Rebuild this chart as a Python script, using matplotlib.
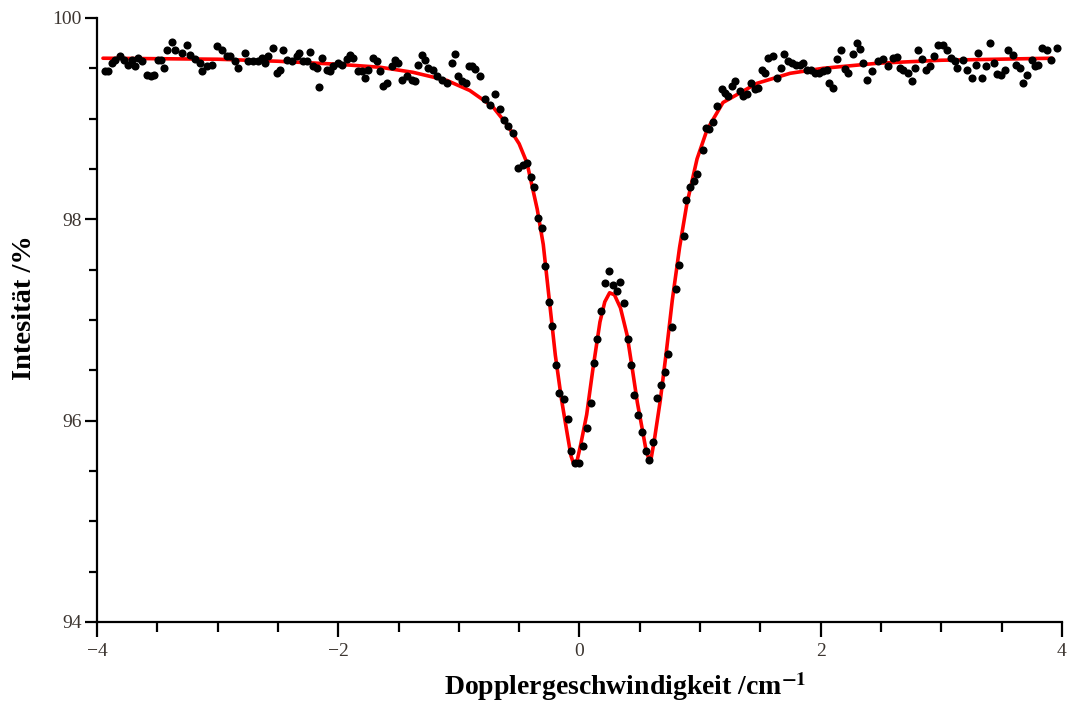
import numpy as np
import matplotlib
matplotlib.use("Agg")
import matplotlib.pyplot as plt
from matplotlib.ticker import MultipleLocator

plt.rcParams['font.family'] = ['Liberation Serif', 'DejaVu Serif']
plt.rcParams['mathtext.fontset'] = 'stix'

# --- Messpunkte (Geschwindigkeit / Intensitaet) ---
velocity = [
    -3.934, -3.909, -3.876, -3.851, -3.809, -3.776, -3.743, -3.710, -3.685, -3.660,
    -3.627, -3.585, -3.552, -3.527, -3.494, -3.469, -3.444, -3.420, -3.378, -3.353,
    -3.295, -3.254, -3.229, -3.187, -3.146, -3.129, -3.088, -3.046, -3.005, -2.964,
    -2.922, -2.897, -2.856, -2.831, -2.773, -2.748, -2.706, -2.665, -2.632, -2.607,
    -2.582, -2.541, -2.507, -2.483, -2.458, -2.425, -2.383, -2.342, -2.325, -2.292,
    -2.259, -2.234, -2.209, -2.176, -2.159, -2.134, -2.093, -2.068, -2.043, -2.002,
    -1.968, -1.927, -1.902, -1.877, -1.836,
    -1.803, -1.778, -1.753, -1.711, -1.678, -1.654, -1.629, -1.595, -1.554, -1.529,
    -1.504, -1.471, -1.430, -1.388, -1.363, -1.338, -1.305, -1.280, -1.255, -1.214,
    -1.181, -1.139, -1.098, -1.056, -1.032, -1.007, -0.973, -0.940, -0.915,
    -0.891, -0.866, -0.824, -0.783, -0.741, -0.700, -0.658, -0.625, -0.592, -0.551,
    -0.509, -0.468, -0.434, -0.401, -0.376, -0.343, -0.310, -0.285, -0.252, -0.227,
    -0.194, -0.169, -0.128, -0.095, -0.070, -0.036, -0.003, 0.030, 0.063, 0.096,
    0.121, 0.146, 0.179, 0.212, 0.245, 0.279, 0.312, 0.337, 0.370, 0.403,
    0.428, 0.453, 0.486, 0.519, 0.552, 0.577, 0.610, 0.643, 0.677, 0.710,
    0.735, 0.768, 0.801, 0.826, 0.867, 0.884, 0.917, 0.950, 0.975,
    1.025, 1.050, 1.075, 1.108, 1.141, 1.182, 1.207, 1.232, 1.265, 1.290,
    1.332, 1.357, 1.390, 1.423, 1.456, 1.481, 1.514, 1.539, 1.564, 1.605,
    1.638, 1.672, 1.697, 1.730, 1.763, 1.796, 1.829, 1.854, 1.887, 1.920,
    1.954, 1.987, 2.020, 2.053, 2.070, 2.103, 2.136, 2.169, 2.202, 2.227,
    2.269, 2.302, 2.327, 2.352, 2.385, 2.426,
    2.476, 2.517, 2.559, 2.600, 2.633, 2.658, 2.683, 2.725, 2.758, 2.783,
    2.808, 2.841, 2.874, 2.907, 2.940, 2.973, 3.015, 3.048, 3.081, 3.114,
    3.131, 3.181, 3.214, 3.255, 3.288, 3.305, 3.338, 3.372, 3.405, 3.438,
    3.463, 3.496, 3.529, 3.554, 3.596, 3.620, 3.653, 3.678, 3.711, 3.753,
    3.778, 3.803, 3.836, 3.877, 3.911, 3.960,
]
intensity = [
    99.47, 99.47, 99.55, 99.58, 99.62, 99.58, 99.53, 99.58, 99.52, 99.60,
    99.57, 99.43, 99.42, 99.43, 99.58, 99.58, 99.50, 99.68, 99.76, 99.68,
    99.65, 99.73, 99.63, 99.59, 99.55, 99.47, 99.52, 99.53, 99.72, 99.68,
    99.62, 99.62, 99.57, 99.50, 99.65, 99.57, 99.57, 99.57, 99.60, 99.55,
    99.62, 99.70, 99.45, 99.48, 99.68, 99.58, 99.57, 99.62, 99.65, 99.57,
    99.57, 99.66, 99.52, 99.50, 99.31, 99.60, 99.48, 99.47, 99.52, 99.55,
    99.53, 99.59, 99.63, 99.60, 99.47,
    99.47, 99.40, 99.48, 99.60, 99.57, 99.47, 99.32, 99.35, 99.52, 99.58,
    99.55, 99.38, 99.42, 99.38, 99.37, 99.53, 99.63, 99.58, 99.50, 99.48,
    99.42, 99.38, 99.35, 99.55, 99.64, 99.42, 99.37, 99.35, 99.52,
    99.52, 99.49, 99.42, 99.19, 99.14, 99.24, 99.10, 98.99, 98.93, 98.86,
    98.51, 98.54, 98.56, 98.42, 98.32, 98.01, 97.91, 97.54, 97.18, 96.94,
    96.55, 96.27, 96.21, 96.02, 95.70, 95.58, 95.58, 95.75, 95.93, 96.18,
    96.57, 96.81, 97.09, 97.37, 97.49, 97.35, 97.29, 97.38, 97.17, 96.81,
    96.55, 96.25, 96.06, 95.89, 95.70, 95.61, 95.79, 96.22, 96.35, 96.48,
    96.66, 96.93, 97.31, 97.55, 97.83, 98.19, 98.32, 98.38, 98.45,
    98.69, 98.91, 98.90, 98.97, 99.13, 99.29, 99.25, 99.22, 99.32, 99.37,
    99.27, 99.22, 99.24, 99.35, 99.29, 99.30, 99.48, 99.45, 99.60, 99.62,
    99.40, 99.50, 99.64, 99.57, 99.55, 99.53, 99.53, 99.55, 99.48, 99.48,
    99.45, 99.45, 99.47, 99.48, 99.35, 99.30, 99.59, 99.68, 99.49, 99.45,
    99.64, 99.75, 99.69, 99.55, 99.38, 99.47,
    99.57, 99.59, 99.52, 99.60, 99.61, 99.50, 99.48, 99.45, 99.37, 99.50,
    99.68, 99.59, 99.48, 99.52, 99.62, 99.73, 99.73, 99.68, 99.60, 99.57,
    99.50, 99.58, 99.48, 99.40, 99.53, 99.65, 99.40, 99.52, 99.75, 99.55,
    99.44, 99.43, 99.48, 99.68, 99.63, 99.53, 99.50, 99.35, 99.43, 99.58,
    99.52, 99.53, 99.70, 99.68, 99.58, 99.70,
]

fit_velocity = [
    -3.95, -3.0, -2.5, -2.0, -1.65, -1.38, -1.10, -0.91, -0.72, -0.60,
    -0.50, -0.435, -0.35, -0.30, -0.25, -0.20, -0.15, -0.10, -0.07, -0.045,
    -0.02, 0.01, 0.06, 0.11, 0.17, 0.21, 0.25, 0.29, 0.34, 0.395,
    0.44, 0.48, 0.52, 0.55, 0.575, 0.595, 0.62, 0.67, 0.72, 0.77,
    0.83, 0.89, 0.975, 1.058, 1.19, 1.47, 1.746, 2.02, 2.47, 3.0, 3.92,
]
fit_intensity = [
    99.60, 99.59, 99.57, 99.54, 99.51, 99.46, 99.38, 99.28, 99.12, 98.94,
    98.75, 98.56, 98.10, 97.75, 97.20, 96.65, 96.22, 95.86, 95.65, 95.56,
    95.60, 95.76, 96.06, 96.50, 96.98, 97.18, 97.27, 97.25, 97.12, 96.85,
    96.50, 96.18, 95.92, 95.72, 95.62, 95.63, 95.80, 96.20, 96.68, 97.20,
    97.72, 98.15, 98.60, 98.89, 99.16, 99.35, 99.45, 99.50, 99.55, 99.58, 99.60,
]

assert len(velocity) == len(intensity)
assert len(fit_velocity) == len(fit_intensity)

x_ticks = [-4, -2, 0, 2, 4]
y_ticks = [94, 96, 98, 100]

fig = plt.figure(figsize=(10.69, 7.04), dpi=100, facecolor='white')
ax = fig.add_axes([0.0907, 0.1165, 0.9027, 0.858])

ax.plot(fit_velocity, fit_intensity, color='#ff0000', linewidth=2.6, zorder=2,
        solid_capstyle='round')
ax.scatter(velocity, intensity, s=34, color='black', linewidths=0, zorder=3)

ax.set_xlim(-4, 4)
ax.set_ylim(94, 100)
ax.set_xticks(x_ticks)
ax.set_yticks(y_ticks)
ax.set_xticklabels(['\u22124', '\u22122', '0', '2', '4'])
ax.xaxis.set_minor_locator(MultipleLocator(0.5))
ax.yaxis.set_minor_locator(MultipleLocator(0.5))

for s in ['top', 'right']:
    ax.spines[s].set_visible(False)
for s in ['left', 'bottom']:
    ax.spines[s].set_linewidth(1.6)

ax.tick_params(which='major', direction='out', length=11, width=1.6,
               labelsize=14, labelcolor='#3c3530', pad=4)
ax.tick_params(which='minor', direction='out', length=7, width=1.6)
ax.tick_params(axis='y', which='major', length=9, pad=2)
ax.tick_params(axis='y', which='minor', length=5.5)

ax.set_xlabel('Dopplergeschwindigkeit /cm$^{\\mathbf{-1}}$', fontsize=20, fontweight='bold')
ax.xaxis.set_label_coords(0.547, -0.08)
ax.set_ylabel('Intesit\u00e4t /%', fontsize=20.5, fontweight='bold')
ax.yaxis.set_label_coords(-0.062, 0.52)

fig.savefig('out.png', dpi=100, facecolor='white')
